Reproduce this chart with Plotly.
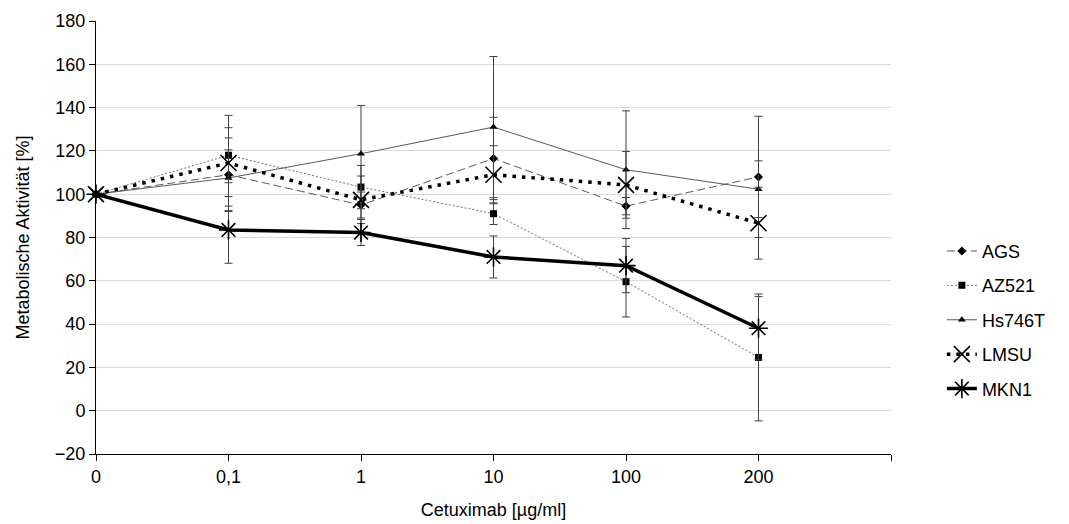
import plotly.graph_objects as go

categories = ["0", "0,1", "1", "10", "100", "200"]
x_idx = [0, 1, 2, 3, 4, 5]

ags = [100, 109, 95, 116.5, 94.5, 108]
ags_err = [0, 17, 6, 19, 4, 28]
az521 = [100, 118, 103.3, 91, 59.6, 24.6]
az521_err = [0, 12.7, 10, 5, 16.3, 29.3]
hs746t = [100, 107.5, 118.7, 131, 111.3, 102.3]
hs746t_err = [0, 13, 22.3, 32.6, 27.2, 13.1]
lmsu = [100, 114.4, 97.4, 109, 104.3, 86.6]
lmsu_err = [0, 22, 11, 13.4, 15.4, 16.6]
mkn1 = [100, 83.5, 82.3, 71, 67, 38.1]
mkn1_err = [0, 15.4, 6, 9.7, 12.5, 14.6]

FONT = "Liberation Sans, Arial, sans-serif"
fig = go.Figure()

def add(name, y, err, line, marker, ecolor):
    fig.add_trace(go.Scatter(
        x=x_idx, y=y, name=name, mode="lines+markers",
        line=line, marker=marker, legendgroup=name, cliponaxis=False,
        error_y=dict(type="data", array=err, visible=True, color=ecolor,
                     thickness=1, width=4),
    ))

add("AGS", ags, ags_err,
    dict(color="#595959", width=1, dash="8px,4px"),
    dict(symbol="diamond", size=7, color="black"), "#404040")
add("AZ521", az521, az521_err,
    dict(color="#6e6e6e", width=1, dash="2px,2px"),
    dict(symbol="square", size=7, color="black"), "#404040")
add("Hs746T", hs746t, hs746t_err,
    dict(color="#595959", width=1),
    dict(symbol="triangle-up", size=7, color="black"), "#404040")
add("LMSU", lmsu, lmsu_err,
    dict(color="black", width=3.5, dash="3.5px,6px"),
    dict(symbol="x-thin-open", size=16, color="black",
         line=dict(width=1.6, color="black")), "#404040")
add("MKN1", mkn1, mkn1_err,
    dict(color="black", width=3.5),
    dict(symbol="asterisk-open", size=16, color="black",
         line=dict(width=1.6, color="black")), "#404040")

fig.update_layout(
    width=1061, height=516,
    margin=dict(l=88, r=178, t=13, b=70),
    paper_bgcolor="white", plot_bgcolor="white",
    font=dict(family=FONT, size=18, color="black"),
    showlegend=True,
    legend=dict(x=1.064, y=0.31, xanchor="left", yanchor="middle",
                font=dict(size=18), tracegroupgap=8,
                bgcolor="rgba(0,0,0,0)"),
)
fig.update_xaxes(
    range=[0, 6], tickmode="array", tickvals=[0, 1, 2, 3, 4, 5, 6],
    ticktext=categories + [""], showline=True, linecolor="black",
    linewidth=1, ticks="outside", ticklen=6, tickcolor="black",
    showgrid=False, zeroline=False, automargin=False,
    title=dict(text="Cetuximab [µg/ml]", font=dict(size=18), standoff=17),
)
fig.update_yaxes(
    range=[-20, 180], dtick=20, tick0=-20, showline=True, linecolor="black",
    linewidth=1, ticks="outside", ticklen=6, tickcolor="black",
    showgrid=True, gridcolor="#d9d9d9", gridwidth=1, zeroline=False,
    automargin=False,
    title=dict(text="Metabolische Aktivität [%]", font=dict(size=18), standoff=20),
)

fig.write_html("out.html")
